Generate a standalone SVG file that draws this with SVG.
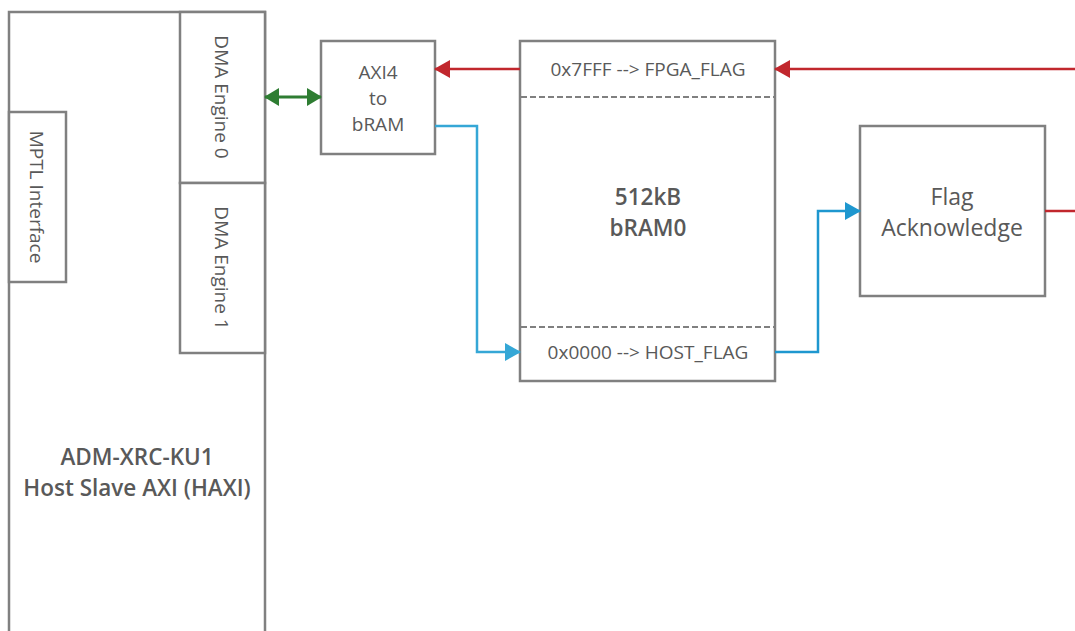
<svg xmlns="http://www.w3.org/2000/svg" width="1075" height="631" viewBox="0 0 1075 631">
<style>
.box{fill:#fff;stroke:#808080;stroke-width:2.5}
.dash{stroke:#808080;stroke-width:2;stroke-dasharray:6,3;fill:none}
.t{font-family:"Open Sans","Noto Sans",sans-serif;fill:#595959;text-anchor:middle}
.s19{font-size:19px}
.s23{font-size:23px}
.s22{font-size:22.5px}
.b{font-weight:600}
.red{stroke:#C1272D;stroke-width:2.5;fill:none}
.blue{stroke:#35A7D6;stroke-width:2.5;fill:none}
.green{stroke:#2E7D32;stroke-width:3;fill:none}
</style>
<defs>
<marker id="ar" markerWidth="16" markerHeight="18" refX="15" refY="9" orient="auto" markerUnits="userSpaceOnUse"><path d="M0,0 L16,9 L0,18 Z" fill="#C1272D"/></marker>
<marker id="ab" markerWidth="16" markerHeight="18" refX="15" refY="9" orient="auto" markerUnits="userSpaceOnUse"><path d="M0,0 L16,9 L0,18 Z" fill="#35A7D6"/></marker>
<marker id="ab2" markerWidth="16" markerHeight="18" refX="15" refY="9" orient="auto" markerUnits="userSpaceOnUse"><path d="M0,0 L16,9 L0,18 Z" fill="#1E97CF"/></marker>
<marker id="ag" markerWidth="15" markerHeight="18" refX="14" refY="9" orient="auto-start-reverse" markerUnits="userSpaceOnUse"><path d="M0,0 L15,9 L0,18 Z" fill="#2E7D32"/></marker>
</defs>
<rect width="1075" height="631" fill="#fff"/>
<g id="haxi">
<path class="box" d="M9,640 L9,12 L265,12 L265,640"/>
<text class="t s22 b" x="137" y="465">ADM-XRC-KU1</text>
<text class="t s22 b" x="137" y="496">Host Slave AXI (HAXI)</text>
</g>
<g id="mptl">
<rect class="box" x="9" y="112" width="57" height="170"/>
<text class="t s19" transform="translate(30,197) rotate(90)" x="0" y="0">MPTL Interface</text>
</g>
<g id="dma0">
<rect class="box" x="180" y="12" width="85" height="171"/>
<text class="t s19" transform="translate(215,97) rotate(90)" x="0" y="0">DMA Engine 0</text>
</g>
<g id="dma1">
<rect class="box" x="180" y="183" width="85" height="170"/>
<text class="t s19" transform="translate(215,268) rotate(90)" x="0" y="0">DMA Engine 1</text>
</g>
<g id="axi4">
<rect class="box" x="321" y="41" width="114" height="113"/>
<text class="t s19" x="378" y="79">AXI4</text>
<text class="t s19" x="378" y="105">to</text>
<text class="t s19" x="378" y="131">bRAM</text>
</g>
<g id="bram">
<rect class="box" x="520" y="41" width="255" height="340"/>
<line class="dash" x1="521" y1="97" x2="774" y2="97"/>
<line class="dash" x1="521" y1="327" x2="774" y2="327"/>
<text class="t s19" x="648" y="76">0x7FFF --&gt; FPGA_FLAG</text>
<text class="t s22 b" x="648" y="205">512kB</text>
<text class="t s22 b" x="648" y="236">bRAM0</text>
<text class="t s19" x="648" y="359">0x0000 --&gt; HOST_FLAG</text>
</g>
<g id="flagack">
<rect class="box" x="860" y="126" width="185" height="170"/>
<text class="t s23" x="952" y="205">Flag</text>
<text class="t s23" x="952" y="236">Acknowledge</text>
</g>
<g id="connectors">
<line class="green" x1="265" y1="97" x2="321" y2="97" marker-start="url(#ag)" marker-end="url(#ag)"/>
<line class="red" x1="1075" y1="69" x2="775" y2="69" marker-end="url(#ar)"/>
<line class="red" x1="520" y1="69" x2="435" y2="69" marker-end="url(#ar)"/>
<line class="red" x1="1045" y1="211" x2="1075" y2="211"/>
<path class="blue" d="M435,126 L477,126 L477,352 L520,352" marker-end="url(#ab)"/>
<path class="blue" d="M775,352 L818,352 L818,211 L860,211" marker-end="url(#ab2)" style="stroke:#1E97CF"/>
</g>
</svg>
